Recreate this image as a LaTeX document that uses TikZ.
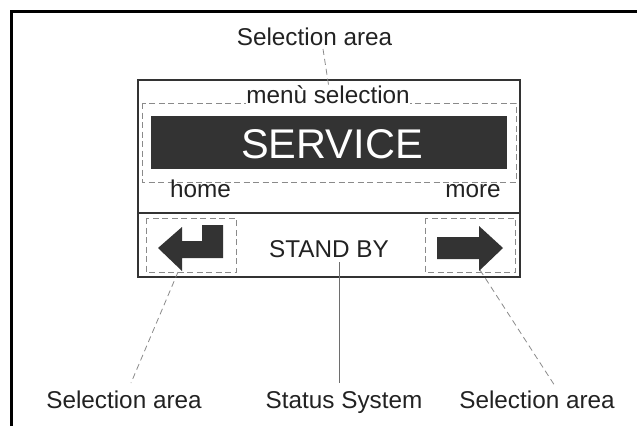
\documentclass[tikz,border=0pt]{standalone}
\usepackage{fontspec}
\setmainfont{Liberation Sans}
\definecolor{ink}{HTML}{222222}
\definecolor{boxline}{HTML}{333333}
\definecolor{dash}{HTML}{8A8A8A}
\definecolor{fillblk}{HTML}{333333}
\begin{document}
\begin{tikzpicture}[x=1pt,y=-1pt,
  lbl/.style={anchor=base,inner sep=0pt,text=ink,font=\fontsize{24.3}{28}\selectfont},
  big/.style={anchor=base,inner sep=0pt,text=white,font=\fontsize{41.5}{48}\selectfont},
  dashbox/.style={draw=dash,line width=0.9pt,dash pattern=on 6pt off 3.5pt},
  leader/.style={draw=dash,line width=0.8pt,dash pattern=on 6pt off 4pt},
  solidleader/.style={draw=dash!80!black,line width=0.8pt},
  frame/.style={draw=black,line width=3pt},
  display/.style={draw=boxline,line width=2pt},
  icon/.style={fill=fillblk,draw=none}]
\useasboundingbox (0,0) rectangle (637,426);
% outer frame (partial)
\draw[frame] (11,426) -- (11,11) -- (637,11);
% display
\draw[display] (138,80) rectangle (520,277);
\draw[display] (138,213) -- (520,213);
% dashed selection areas
\draw[dashbox] (142,103) rectangle (516,182);
\draw[dashbox] (146,218) rectangle (236,272);
\draw[dashbox] (425,218) rectangle (515,272);
% SERVICE bar
\fill[fillblk] (151,116) rectangle (507,169);
\node[big] (service) at (332,158) {SERVICE};
% texts inside display
\node[lbl,fill=white,inner sep=0.6pt] (menu) at (328,103) {menù selection};
\node[lbl] (home) at (200.5,197) {home};
\node[lbl] (more) at (473,197) {more};
\node[lbl] (standby) at (329,257) {STAND BY};
% icons
\fill[icon] (158,248) -- (182,227) -- (182,241) -- (202,241) -- (202,225) -- (223,225) -- (223,258) -- (182,258) -- (182,271) -- cycle;
\fill[icon] (437,237) -- (479,237) -- (479,226) -- (503,248) -- (479,271) -- (479,259) -- (437,259) -- cycle;
% outside labels
\node[lbl] (seltop) at (314.5,45) {Selection area};
\node[lbl] (selleft) at (124,408) {Selection area};
\node[lbl] (status) at (344,408) {Status System};
\node[lbl] (selright) at (537,408) {Selection area};
% leader end points
\coordinate (t1) at (323,49);
\coordinate (t2) at (329,88);
\coordinate (l1) at (178,272);
\coordinate (l2) at (131,383);
\coordinate (s1) at (339,262);
\coordinate (s2) at (339,383);
\coordinate (r1) at (480,270);
\coordinate (r2) at (555,386);
\draw[leader] (t1) -- (t2);
\draw[leader] (l1) -- (l2);
\draw[solidleader] (s1) -- (s2);
\draw[leader] (r1) -- (r2);
\end{tikzpicture}
\end{document}
